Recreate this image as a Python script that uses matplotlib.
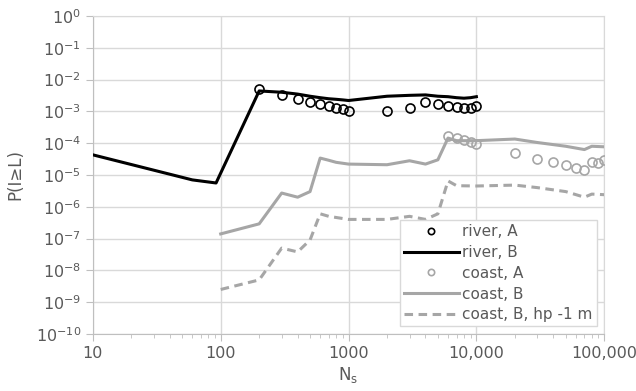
#!/usr/bin/env python3
# Exceedance probability vs. number of simulations, river and coast cases.

import matplotlib
matplotlib.use('Agg')
import matplotlib.pyplot as plt
from matplotlib.ticker import FixedLocator, FixedFormatter, LogLocator, NullFormatter

# river, A (circles)
river_a_n = [200, 300, 400, 500, 600, 700, 800, 900, 1000,
             2000, 3000, 4000, 5000, 6000, 7000, 8000, 9000, 10000]
river_a_p = [5e-3, 3.3e-3, 2.5e-3, 2e-3, 1.7e-3, 1.5e-3, 1.3e-3, 1.2e-3, 1.05e-3,
             1e-3, 1.3e-3, 2e-3, 1.7e-3, 1.5e-3, 1.4e-3, 1.25e-3, 1.3e-3, 1.5e-3]

# river, B (line)
river_b_n = [10, 60, 92, 200, 300, 400, 500, 600, 700, 800, 900, 1000,
             2000, 3000, 4000, 5000, 6000, 7000, 8000, 9000, 10000]
river_b_p = [4.3e-5, 7e-6, 5.6e-6, 4.4e-3, 4e-3, 3.5e-3, 3e-3, 2.7e-3, 2.5e-3, 2.4e-3, 2.3e-3, 2.2e-3,
             3e-3, 3.2e-3, 3.3e-3, 3e-3, 2.9e-3, 2.7e-3, 2.6e-3, 2.7e-3, 2.9e-3]

# coast, A (circles)
coast_a_n = [6000, 7000, 8000, 9000, 10000, 20000, 30000, 40000, 50000,
             60000, 70000, 80000, 90000, 100000]
coast_a_p = [1.7e-4, 1.5e-4, 1.3e-4, 1.1e-4, 9.5e-5, 5e-5, 3.2e-5, 2.5e-5, 2e-5,
             1.7e-5, 1.4e-5, 2.5e-5, 2.3e-5, 3e-5]

# coast, B (line)
coast_b_n = [100, 200, 300, 400, 500, 600, 700, 800, 1000, 2000, 3000, 4000, 5000,
             6000, 7000, 8000, 10000, 20000, 30000, 50000, 70000, 80000, 100000]
coast_b_p = [1.4e-7, 2.9e-7, 2.7e-6, 2e-6, 3e-6, 3.4e-5, 2.9e-5, 2.5e-5, 2.2e-5, 2.1e-5, 2.8e-5, 2.2e-5, 3e-5,
             1.45e-4, 1.2e-4, 1.2e-4, 1.2e-4, 1.35e-4, 1.05e-4, 8e-5, 6.3e-5, 8e-5, 7.7e-5]

# coast, B, hp -1 m (dashed)
coast_hp_n = [100, 200, 300, 400, 500, 600, 700, 1000, 2000, 3000, 4000, 5000,
              6000, 7000, 10000, 20000, 30000, 50000, 70000, 80000, 100000]
coast_hp_p = [2.5e-9, 5e-9, 5e-8, 3.8e-8, 9e-8, 6e-7, 5e-7, 4e-7, 4e-7, 5e-7, 4e-7, 6e-7,
              6.5e-6, 4.6e-6, 4.5e-6, 4.8e-6, 4e-6, 3e-6, 2e-6, 2.5e-6, 2.4e-6]

x_ticks = [10, 100, 1000, 10000, 100000]
x_tick_labels = ['10', '100', '1000', '10,000', '100,000']
y_exps = list(range(0, -11, -1))

TXT = '#595959'
GRAY = '#a6a6a6'
GRID = '#d9d9d9'

fig = plt.figure(figsize=(6.36, 3.91), dpi=100)
ax = fig.add_axes([0.146, 0.146, 0.804, 0.813])

ax.plot(river_a_n, river_a_p, 'o', mfc='none', mec='black', ms=6.5, mew=1.2,
        label='river, A', zorder=4)
ax.plot(river_b_n, river_b_p, '-', color='black', lw=2.2, label='river, B', zorder=3)
ax.plot(coast_a_n, coast_a_p, 'o', mfc='none', mec=GRAY, ms=6.5, mew=1.2,
        label='coast, A', zorder=4)
ax.plot(coast_b_n, coast_b_p, '-', color=GRAY, lw=2.2, label='coast, B', zorder=3)
ax.plot(coast_hp_n, coast_hp_p, '--', color=GRAY, lw=2.2, dashes=(2.8, 1.8),
        label='coast, B, hp -1 m', zorder=3)

ax.set_xscale('log')
ax.set_yscale('log')
ax.set_xlim(10, 100000)
ax.set_ylim(1e-10, 1)

ax.xaxis.set_major_locator(FixedLocator(x_ticks))
ax.xaxis.set_major_formatter(FixedFormatter(x_tick_labels))
ax.xaxis.set_minor_locator(LogLocator(base=10, subs=range(2, 10)))
ax.xaxis.set_minor_formatter(NullFormatter())
ax.yaxis.set_major_locator(FixedLocator([10.0 ** e for e in y_exps]))
ax.yaxis.set_major_formatter(FixedFormatter([r'$\mathregular{10^{%d}}$' % e for e in y_exps]))
ax.yaxis.set_minor_locator(LogLocator(base=10, subs=range(2, 10)))
ax.yaxis.set_minor_formatter(NullFormatter())

ax.grid(True, which='major', color=GRID, lw=1)
ax.set_axisbelow(True)
for side in ['top', 'right']:
    ax.spines[side].set_color(GRID)
for side in ['left', 'bottom']:
    ax.spines[side].set_color('#bfbfbf')
ax.tick_params(which='major', length=5, color='#bfbfbf', labelsize=11.5, labelcolor=TXT)
ax.tick_params(which='minor', length=3, color='#bfbfbf')

ax.set_xlabel(r'N$_\mathregular{s}$', fontsize=12, color=TXT, labelpad=3)
ax.set_ylabel('P(I≥L)', fontsize=12, color=TXT, labelpad=8)

leg = ax.legend(loc='lower right', fontsize=11, handlelength=3.6, frameon=True,
                fancybox=False, edgecolor=GRID, framealpha=1, markerscale=0.7,
                borderaxespad=0.5, labelspacing=0.38, handletextpad=0.25, borderpad=0.25)
for t in leg.get_texts():
    t.set_color(TXT)

fig.savefig('out.png', dpi=100)
